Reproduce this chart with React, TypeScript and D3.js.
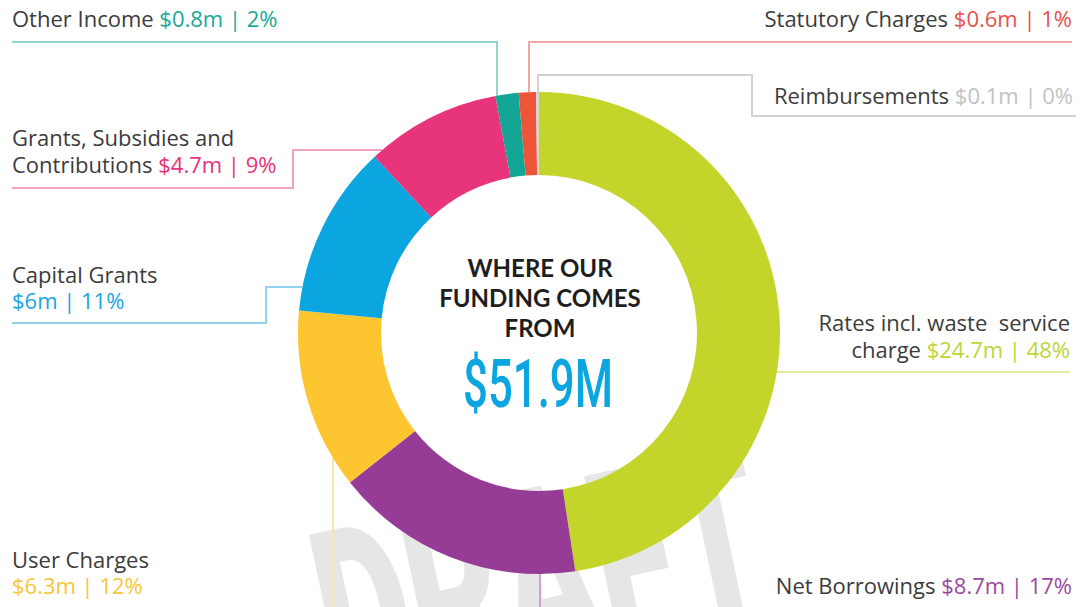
import React from 'react';
import * as d3 from 'd3';

// funding sources, in clockwise order from 12 o'clock
const names = ['Rates incl. waste  service charge', 'Net Borrowings', 'User Charges', 'Capital Grants',
  'Grants, Subsidies and Contributions', 'Other Income', 'Statutory Charges', 'Reimbursements'];
const amounts = [24.7, 8.7, 6.3, 6, 4.7, 0.8, 0.6, 0.1];
const amountLabels = ['$24.7m', '$8.7m', '$6.3m', '$6m', '$4.7m', '$0.8m', '$0.6m', '$0.1m'];
const pctLabels = ['48%', '17%', '12%', '11%', '9%', '2%', '1%', '0%'];
const colors = ['#c3d52b', '#963c96', '#fdc530', '#0ba5e0', '#e7347b', '#14a695', '#ee5538', '#d6d6d6'];
const lineColors = ['#e0ec9e', '#cfa3cf', '#f5e6a6', '#93d2ef', '#f3a3c2', '#8fd5cd', '#f2a8a2', '#d2d2d2'];
const valueColors = ['#bfd43a', '#9b4aa0', '#f9c63a', '#1aa6df', '#e6337a', '#1aa899', '#e8524a', '#c2c2c2'];
const total = '$51.9M';

const W = 1082, H = 607;
const cx = 539, cy = 333, R = 241, r0 = 158;

// label layout: text lines (last line gets the value), anchor, and leader path
type Lbl = { lines: string[]; x: number; ys: number[]; anchor: string; path: [number, number][]; end: string };
const layout: Lbl[] = [
  { lines: ['Rates incl. waste  service', 'charge'], x: 1070, ys: [331, 358], anchor: 'end', path: [[1070, 372]], end: 'right' },
  { lines: ['Net Borrowings'], x: 1072, ys: [594], anchor: 'end', path: [[540, 607]], end: 'bottom' },
  { lines: ['User Charges', ''], x: 12, ys: [568, 594], anchor: 'start', path: [[333, 607]], end: 'bottom' },
  { lines: ['Capital Grants', ''], x: 12, ys: [283, 309], anchor: 'start', path: [[12, 323], [266, 323], [266, 287]], end: 'left' },
  { lines: ['Grants, Subsidies and', 'Contributions'], x: 12, ys: [146, 173], anchor: 'start', path: [[12, 188], [293, 188], [293, 150]], end: 'left' },
  { lines: ['Other Income'], x: 12, ys: [27], anchor: 'start', path: [[12, 42], [497, 42]], end: 'top' },
  { lines: ['Statutory Charges'], x: 1072, ys: [27], anchor: 'end', path: [[1072, 42], [529, 42]], end: 'top' },
  { lines: ['Reimbursements'], x: 1073, ys: [104], anchor: 'end', path: [[1076, 116], [752, 116], [752, 75], [538, 75]], end: 'top' },
];

function ringPoint(p: [number, number], end: string): [number, number] {
  const [x, y] = p;
  if (end === 'top') return [x, cy - Math.sqrt(R * R - (x - cx) ** 2)];
  if (end === 'bottom') return [x, cy + Math.sqrt(R * R - (x - cx) ** 2)];
  if (end === 'left') return [cx - Math.sqrt(R * R - (y - cy) ** 2), y];
  if (end === 'right') return [cx + Math.sqrt(R * R - (y - cy) ** 2), y];
  return p;
}

export default function App() {
  const pie = d3.pie<number>().sort(null).value(d => d);
  const arcs = pie(amounts);
  const arc = d3.arc<d3.PieArcDatum<number>>().innerRadius(r0).outerRadius(R);
  const line = d3.line();
  const font = '"Open Sans", Lato, sans-serif';

  return (
    <svg width={W} height={H} style={{ position: 'absolute', left: 0, top: 0, background: '#fff' }}>
      {/* watermark */}
      <text x={545} y={665} transform="rotate(-12 545 600)" textAnchor="middle" fontFamily="Roboto, sans-serif"
        fontWeight={900} fontSize={250} fill="#e6e6e6" textLength={450} lengthAdjust="spacingAndGlyphs">DRAFT</text>

      {layout.map((l, i) => {
        const pts = l.path.slice();
        const last = pts[pts.length - 1];
        const tip = ringPoint(last, l.end);
        const all: [number, number][] = l.end === 'bottom' ? [tip, last] : [...pts, tip];
        return <path key={'ln' + i} d={line(all) || ''} fill="none" stroke={lineColors[i]} strokeWidth={2} />;
      })}

      <g transform={`translate(${cx},${cy})`}>
        {arcs.map((a, i) => <path key={i} d={arc(a) || ''} fill={colors[i]} />)}
      </g>

      {layout.map((l, i) => (
        <text key={'t' + i} x={l.x} textAnchor={l.anchor} fontFamily={font} fontSize={22} fill="#3c3c3c"
          style={{ whiteSpace: 'pre' }}>
          {l.lines.map((s, j) => (
            <tspan key={j} x={l.x} y={l.ys[j]}>
              {s}
              {j === l.lines.length - 1 && (
                <tspan fill={valueColors[i]}>{(s ? ' ' : '') + amountLabels[i] + ' | ' + pctLabels[i]}</tspan>
              )}
            </tspan>
          ))}
        </text>
      ))}

      <g fontFamily="Lato, sans-serif" fontWeight={700} fontSize={24} fill="#1e1e1e" textAnchor="middle">
        <text x={cx + 1} y={277}>WHERE OUR</text>
        <text x={cx + 1} y={307}>FUNDING COMES</text>
        <text x={cx + 1} y={337}>FROM</text>
      </g>
      <text x={cx - 1} y={407} textAnchor="middle" fontFamily="Roboto, sans-serif" fontWeight={500} fontSize={66}
        fill="#0ba5e0" textLength={150} lengthAdjust="spacingAndGlyphs">{total}</text>
    </svg>
  );
}
